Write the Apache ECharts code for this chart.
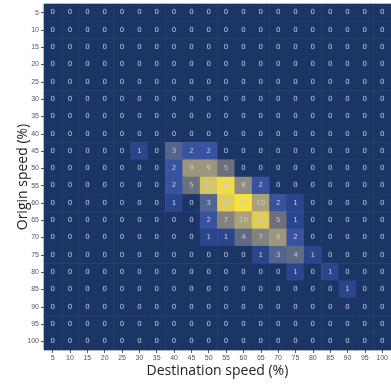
<!DOCTYPE html>
<html>
<head>
<meta charset="utf-8">
<script src="https://cdn.jsdelivr.net/npm/echarts@6/dist/echarts.min.js"></script>
<style>
  html, body { margin: 0; padding: 0; background: #ffffff; }
  #chart { width: 391px; height: 384px; }
</style>
</head>
<body>
<div id="chart"></div>
<script>
// Speed bins (%) shared by both axes
const destinationSpeeds = [5, 10, 15, 20, 25, 30, 35, 40, 45, 50, 55, 60, 65, 70, 75, 80, 85, 90, 95, 100];
const originSpeeds = [5, 10, 15, 20, 25, 30, 35, 40, 45, 50, 55, 60, 65, 70, 75, 80, 85, 90, 95, 100];

// Counts: one row per origin speed, columns follow destinationSpeeds
const counts = [
  [0, 0, 0, 0, 0, 0, 0, 0, 0, 0, 0, 0, 0, 0, 0, 0, 0, 0, 0, 0], // 5
  [0, 0, 0, 0, 0, 0, 0, 0, 0, 0, 0, 0, 0, 0, 0, 0, 0, 0, 0, 0], // 10
  [0, 0, 0, 0, 0, 0, 0, 0, 0, 0, 0, 0, 0, 0, 0, 0, 0, 0, 0, 0], // 15
  [0, 0, 0, 0, 0, 0, 0, 0, 0, 0, 0, 0, 0, 0, 0, 0, 0, 0, 0, 0], // 20
  [0, 0, 0, 0, 0, 0, 0, 0, 0, 0, 0, 0, 0, 0, 0, 0, 0, 0, 0, 0], // 25
  [0, 0, 0, 0, 0, 0, 0, 0, 0, 0, 0, 0, 0, 0, 0, 0, 0, 0, 0, 0], // 30
  [0, 0, 0, 0, 0, 0, 0, 0, 0, 0, 0, 0, 0, 0, 0, 0, 0, 0, 0, 0], // 35
  [0, 0, 0, 0, 0, 0, 0, 0, 0, 0, 0, 0, 0, 0, 0, 0, 0, 0, 0, 0], // 40
  [0, 0, 0, 0, 0, 1, 0, 3, 2, 2, 0, 0, 0, 0, 0, 0, 0, 0, 0, 0], // 45
  [0, 0, 0, 0, 0, 0, 0, 2, 9, 9, 5, 0, 0, 0, 0, 0, 0, 0, 0, 0], // 50
  [0, 0, 0, 0, 0, 0, 0, 2, 5, 13, 16, 8, 2, 0, 0, 0, 0, 0, 0, 0], // 55
  [0, 0, 0, 0, 0, 0, 0, 1, 0, 3, 14, 17, 10, 2, 1, 0, 0, 0, 0, 0], // 60
  [0, 0, 0, 0, 0, 0, 0, 0, 0, 2, 7, 10, 14, 5, 1, 0, 0, 0, 0, 0], // 65
  [0, 0, 0, 0, 0, 0, 0, 0, 0, 1, 1, 4, 7, 9, 2, 0, 0, 0, 0, 0], // 70
  [0, 0, 0, 0, 0, 0, 0, 0, 0, 0, 0, 0, 1, 3, 4, 1, 0, 0, 0, 0], // 75
  [0, 0, 0, 0, 0, 0, 0, 0, 0, 0, 0, 0, 0, 0, 1, 0, 1, 0, 0, 0], // 80
  [0, 0, 0, 0, 0, 0, 0, 0, 0, 0, 0, 0, 0, 0, 0, 0, 0, 1, 0, 0], // 85
  [0, 0, 0, 0, 0, 0, 0, 0, 0, 0, 0, 0, 0, 0, 0, 0, 0, 0, 0, 0], // 90
  [0, 0, 0, 0, 0, 0, 0, 0, 0, 0, 0, 0, 0, 0, 0, 0, 0, 0, 0, 0], // 95
  [0, 0, 0, 0, 0, 0, 0, 0, 0, 0, 0, 0, 0, 0, 0, 0, 0, 0, 0, 0]  // 100
];

// Cividis-like ramp, one stop per integer count 0..17
const palette = [
  '#1b3566', '#29468c', '#3753a0', '#55648e', '#616a84', '#6d707c',
  '#78787c', '#84827e', '#8f8b80', '#9d967c', '#aca278', '#bcb070',
  '#cbbc68', '#d6c660', '#dfcd58', '#e8d550', '#efdc46', '#f6e23e'
];

const cells = [];
counts.forEach((row, yi) => {
  row.forEach((v, xi) => cells.push([xi, yi, v]));
});

const axisFont = { fontFamily: 'Liberation Sans', fontSize: 7, color: '#555' };
const nameFont = { fontFamily: 'Open Sans', fontSize: 14, color: '#222' };

const chart = echarts.init(document.getElementById('chart'));
chart.setOption({
  animation: false,
  grid: { left: 44, right: 0, top: 4, bottom: 34, show: true, borderColor: '#d0d0d0', borderWidth: 1 },
  xAxis: {
    type: 'category',
    data: destinationSpeeds,
    name: 'Destination speed (%)',
    nameLocation: 'middle',
    nameGap: 14,
    nameMoveOverlap: false,
    nameTextStyle: nameFont,
    axisLine: { show: false },
    axisTick: { show: true, alignWithLabel: true, length: 3, lineStyle: { color: '#555' } },
    axisLabel: Object.assign({ margin: 5, interval: 0 }, axisFont),
    splitLine: { show: false }
  },
  yAxis: {
    type: 'category',
    data: originSpeeds,
    inverse: true,
    name: 'Origin speed (%)',
    nameLocation: 'middle',
    nameGap: 14,
    nameMoveOverlap: false,
    nameRotate: 90,
    nameTextStyle: nameFont,
    axisLine: { show: false },
    axisTick: { show: true, alignWithLabel: true, length: 3, lineStyle: { color: '#555' } },
    axisLabel: Object.assign({ margin: 5, interval: 0 }, axisFont),
    splitLine: { show: false }
  },
  visualMap: {
    show: false,
    type: 'continuous',
    min: 0,
    max: 17,
    dimension: 2,
    inRange: { color: palette }
  },
  series: [{
    type: 'heatmap',
    data: cells,
    label: {
      show: true,
      fontFamily: 'DejaVu Sans',
      fontSize: 7,
      color: '#c3cbdd'
    },
    itemStyle: { borderWidth: 0 },
    emphasis: { disabled: true }
  }]
});
</script>
</body>
</html>
